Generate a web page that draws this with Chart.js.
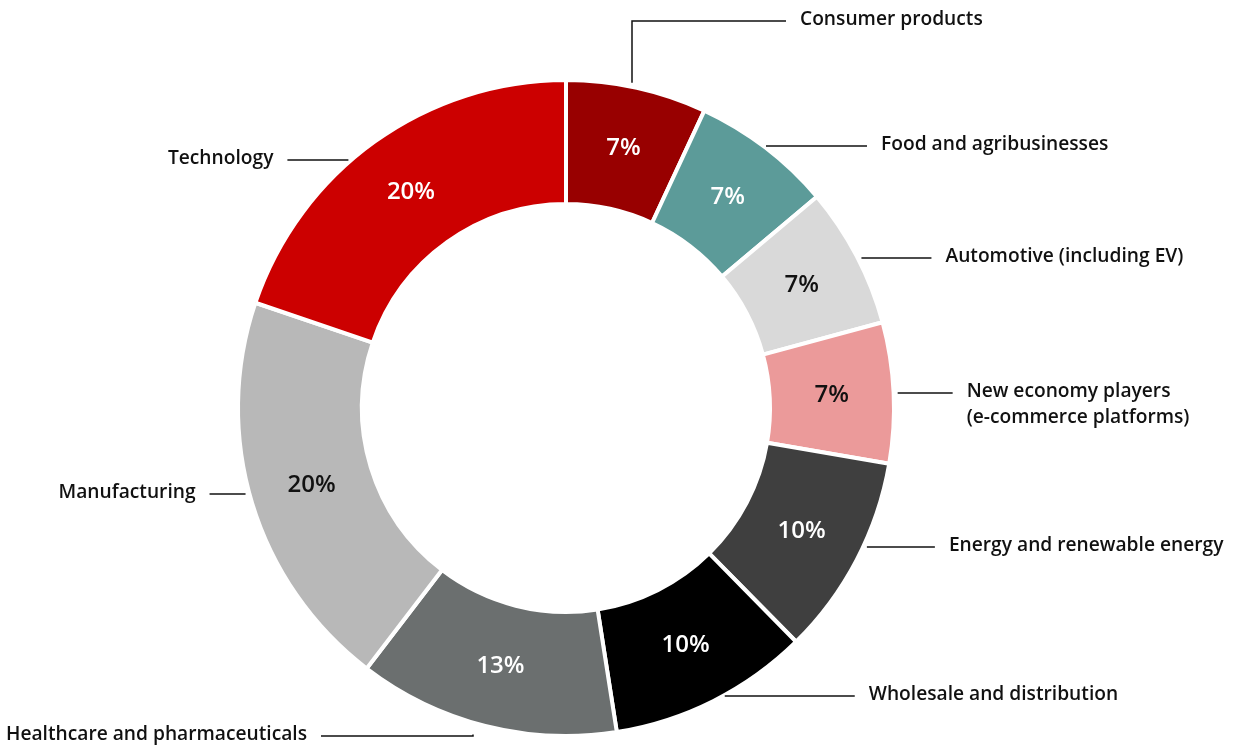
<!DOCTYPE html>
<html lang="en">
<head>
<meta charset="utf-8">
<title>Sector breakdown</title>
<style>
  html, body { margin: 0; padding: 0; background: #ffffff; }
  #wrap { width: 1238px; height: 747px; }
</style>
</head>
<body>
<div id="wrap"><canvas id="sectorChart" width="1238" height="747"></canvas></div>
<script src="https://cdn.jsdelivr.net/npm/chart.js"></script>
<script>
// sectors, clockwise from 12 o'clock
const sectors = [
  'Consumer products',
  'Food and agribusinesses',
  'Automotive (including EV)',
  ['New economy players', '(e-commerce platforms)'],
  'Energy and renewable energy',
  'Wholesale and distribution',
  'Healthcare and pharmaceuticals',
  'Manufacturing',
  'Technology'
];
const shares = [7, 7, 7, 7, 10, 10, 13, 20, 20];

const sliceColors = ['#980000', '#5c9b99', '#d9d9d9', '#eb9a9a', '#3f3f3f', '#000000', '#6b6f6f', '#b8b8b8', '#cc0000'];
const valueColors = ['#ffffff', '#ffffff', '#111111', '#111111', '#ffffff', '#ffffff', '#ffffff', '#111111', '#ffffff'];

// leader line layout: y offset from centre, line length, side
// elbow = line goes out horizontally at hy, then turns towards the ring at x offset ex
const leaders = [
  { elbow: true, ex: 66, hy: -387, len: 154, side: 'right', up: true },
  { dy: -262, len: 101, side: 'right' },
  { dy: -150, len: 70, side: 'right' },
  { dy: -15, len: 55, side: 'right' },
  { dy: 139, len: 68, side: 'right' },
  { dy: 288, len: 130, side: 'right' },
  { elbow: true, ex: -93, hy: 328, len: 152, side: 'left', up: false },
  { dy: 86, len: 36, side: 'left' },
  { dy: -248, len: 61, side: 'left' }
];

const FONT = '"Open Sans", "Noto Sans", sans-serif';

const sliceLabels = {
  id: 'sliceLabels',
  afterDatasetsDraw(chart) {
    const ctx = chart.ctx;
    const meta = chart.getDatasetMeta(0);
    const arc0 = meta.data[0];
    const cx = arc0.x, cy = arc0.y;
    const R = arc0.outerRadius - 2;
    const gap = 6, textGap = 14;

    ctx.save();
    // percentages in the middle of each slice
    ctx.font = '600 24px ' + FONT;
    ctx.textAlign = 'center';
    ctx.textBaseline = 'middle';
    meta.data.forEach((arc, i) => {
      const p = arc.getCenterPoint();
      ctx.fillStyle = valueColors[i];
      ctx.fillText(shares[i] + '%', p.x, p.y);
    });

    // category names with leader lines
    ctx.strokeStyle = '#111111';
    ctx.lineWidth = 1.5;
    ctx.fillStyle = '#111111';
    ctx.font = '600 19.2px ' + FONT;
    leaders.forEach((l, i) => {
      const dir = l.side === 'right' ? 1 : -1;
      let tx, ty;
      ctx.beginPath();
      if (l.elbow) {
        const ax = cx + l.ex;
        const ringY = cy + (l.up ? -1 : 1) * Math.sqrt(R * R - l.ex * l.ex);
        const y0 = ringY + (l.up ? -gap : gap + 8);
        const hy = cy + l.hy;
        ctx.moveTo(ax, y0);
        ctx.lineTo(ax, hy);
        ctx.lineTo(ax + dir * l.len, hy);
        tx = ax + dir * (l.len + textGap);
        ty = hy;
      } else {
        const y = cy + l.dy;
        const x0 = cx + dir * (Math.sqrt(R * R - l.dy * l.dy) + gap);
        const x1 = x0 + dir * l.len;
        ctx.moveTo(x0, y);
        ctx.lineTo(x1, y);
        tx = x1 + dir * textGap;
        ty = y;
      }
      ctx.stroke();
      ctx.textAlign = dir > 0 ? 'left' : 'right';
      const lines = Array.isArray(sectors[i]) ? sectors[i] : [sectors[i]];
      lines.forEach((t, k) => ctx.fillText(t, tx, ty - 1 + k * 26));
    });
    ctx.restore();
  }
};

new Chart(document.getElementById('sectorChart'), {
  type: 'doughnut',
  data: {
    labels: sectors,
    datasets: [{
      data: shares,
      backgroundColor: sliceColors,
      borderColor: '#ffffff',
      borderWidth: 4,
      hoverOffset: 0
    }]
  },
  options: {
    responsive: false,
    animation: false,
    radius: 328,
    cutout: '62.2%',
    layout: { padding: { left: 238, right: 344, top: 80, bottom: 11 } },
    plugins: {
      legend: { display: false },
      tooltip: { enabled: false }
    }
  },
  plugins: [sliceLabels]
});
</script>
</body>
</html>
